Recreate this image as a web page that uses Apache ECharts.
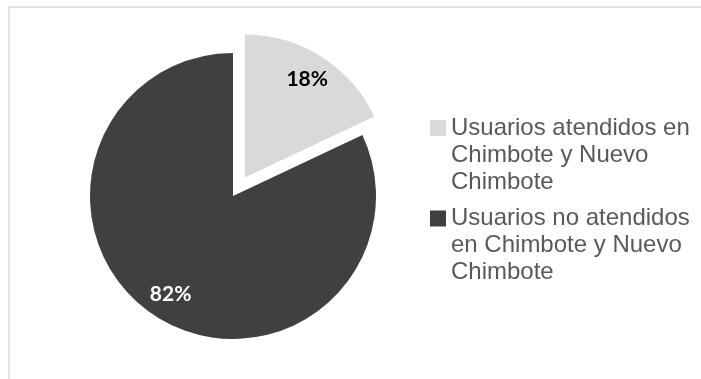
<!DOCTYPE html>
<html>
<head>
<meta charset="utf-8">
<script src="https://cdn.jsdelivr.net/npm/echarts@6/dist/echarts.min.js"></script>
<style>html,body{margin:0;padding:0;background:#fff;}#c{width:701px;height:379px;}</style>
</head>
<body>
<div id="c"></div>
<script>
var categories = ['Usuarios atendidos en Chimbote y Nuevo Chimbote', 'Usuarios no atendidos en Chimbote y Nuevo Chimbote'];
var legendLabels = ['Usuarios atendidos en\nChimbote y Nuevo\nChimbote', 'Usuarios no atendidos\nen Chimbote y Nuevo\nChimbote'];
var values = [18, 82];
var colors = ['#d9d9d9', '#404040'];
var labelColors = ['#000000', '#ffffff'];

var chart = echarts.init(document.getElementById('c'), null, {renderer: 'canvas'});

var mainData = categories.map(function (n, i) {
  return {name: n, value: values[i], selected: i === 0, itemStyle: {color: colors[i]}};
});
var labelData = categories.map(function (n, i) {
  return {name: n, value: values[i], selected: i === 0,
    itemStyle: {color: 'rgba(0,0,0,0)'},
    label: {color: labelColors[i]}};
});

chart.setOption({
  animation: false,
  graphic: [{
    type: 'rect', silent: true,
    shape: {x: 9, y: 7, width: 720, height: 420},
    style: {fill: 'none', stroke: '#d9d9d9', lineWidth: 1.5}
  }],
  legend: {
    orient: 'vertical',
    left: 430,
    top: 114.5,
    padding: 0,
    itemWidth: 16,
    itemHeight: 81,
    itemGap: 9.5,
    icon: 'path://M0,5.5 L16,5.5 L16,21.5 L0,21.5 Z M0,0 L0,0 M0,81 L0,81',
    selectedMode: false,
    data: categories,
    formatter: function (name) { return legendLabels[categories.indexOf(name)]; },
    textStyle: {
      fontFamily: 'Liberation Sans, Arial, sans-serif',
      fontSize: 24,
      lineHeight: 27,
      color: '#595959'
    }
  },
  series: [{
    type: 'pie',
    center: [233, 196],
    radius: [0, 143],
    startAngle: 90,
    clockwise: true,
    selectedMode: 'single',
    selectedOffset: 22,
    silent: true,
    label: {show: false},
    labelLine: {show: false},
    itemStyle: {borderWidth: 0},
    emphasis: {disabled: true},
    data: mainData
  }, {
    type: 'pie',
    center: [233, 196],
    radius: [84, 143],
    startAngle: 90,
    clockwise: true,
    selectedMode: 'single',
    selectedOffset: 22,
    silent: true,
    labelLine: {show: false},
    emphasis: {disabled: true},
    label: {
      show: true,
      position: 'inside',
      fontFamily: 'Lato, sans-serif',
      fontWeight: 'bold',
      fontSize: 21,
      formatter: function (p) { return p.value + '%'; }
    },
    data: labelData
  }]
});
</script>
</body>
</html>
